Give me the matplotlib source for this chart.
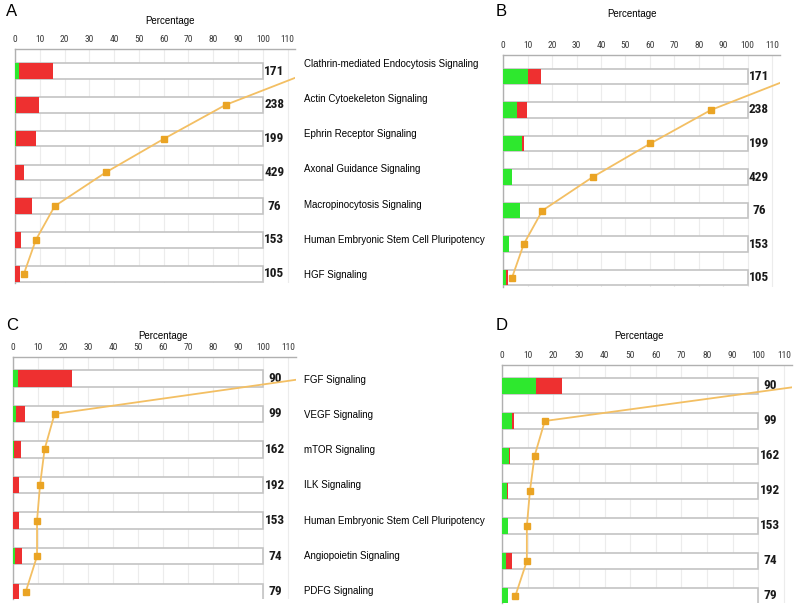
import numpy as np
import matplotlib
matplotlib.use("Agg")
import matplotlib.pyplot as plt

# pathways and molecule counts
paths_ab = ["Clathrin-mediated Endocytosis Signaling", "Actin Cytoekeleton Signaling",
            "Ephrin Receptor Signaling", "Axonal Guidance Signaling",
            "Macropinocytosis Signaling", "Human Embryonic Stem Cell Pluripotency",
            "HGF Signaling"]
counts_ab = [171, 238, 199, 429, 76, 153, 105]
paths_cd = ["FGF Signaling", "VEGF Signaling", "mTOR Signaling", "ILK Signaling",
            "Human Embryonic Stem Cell Pluripotency", "Angiopoietin Signaling",
            "PDFG Signaling"]
counts_cd = [90, 99, 162, 192, 153, 74, 79]

# percentage of pathway molecules: green (down) and red (up) segments
a_green = [1.5, 0.4, 0.3, 0.0, 0.0, 0.0, 0.0]
a_red = [14.0, 9.3, 8.2, 3.8, 6.7, 2.6, 1.9]
b_green = [10.2, 5.7, 7.5, 3.6, 6.7, 2.5, 1.0]
b_red = [5.4, 3.9, 1.0, 0.0, 0.0, 0.0, 0.9]
c_green = [2.2, 1.2, 0.4, 0.3, 0.0, 0.9, 0.0]
c_red = [21.3, 3.7, 2.8, 2.2, 2.5, 3.0, 2.5]
d_green = [13.3, 4.0, 2.9, 1.8, 2.3, 1.4, 2.5]
d_red = [10.0, 0.8, 0.3, 0.7, 0.2, 2.5, 0.0]

# threshold / -log(p) line (shown on the percentage scale)
line_ab = [120, 85, 60.2, 36.6, 16, 8.4, 3.6]
line_cd = [117, 16.7, 12.7, 10.9, 9.7, 9.7, 5.2]

GREEN = "#2ee82e"
RED = "#ee3030"
NARROW = ["Liberation Sans Narrow", "Roboto Condensed", "DejaVu Sans Condensed", "Liberation Sans"]
SANS = ["Liberation Sans", "DejaVu Sans"]

fig = plt.figure(figsize=(8, 6.07), dpi=100)


def panel(rect, green, red, line, counts, letter, ylim, letter_xy, title_xy):
    ax = fig.add_axes(rect)
    y = np.arange(len(counts))
    ax.set_xlim(0, 113)
    ax.set_ylim(*ylim)
    ax.barh(y, 100, height=0.46, color="white", edgecolor="#c4c4c4", linewidth=1.2, zorder=2)
    ax.barh(y, green, height=0.46, color=GREEN, zorder=3)
    ax.barh(y, red, left=green, height=0.46, color=RED, zorder=3)
    ax.plot(line, y, color="#f3bf63", lw=1.3, zorder=4)
    ax.plot(line, y, ls="none", marker="s", ms=4.5, color="#eaa424", zorder=5)
    for yi, c in zip(y, counts):
        ax.text(104.6, yi, str(c), ha="center", va="center", fontsize=9.5,
                fontweight="bold", family=NARROW, fontstretch="condensed", color="#1a1a1a")
    ax.set_xticks(np.arange(0, 111, 10))
    ax.xaxis.tick_top()
    ax.tick_params(axis="x", length=0, pad=3.5, labelsize=6.8, labelcolor="#3a3a3a")
    for lab in ax.get_xticklabels():
        lab.set_family(NARROW)
        lab.set_fontstretch("condensed")
    ax.set_yticks([])
    ax.grid(axis="x", color="#ececec", lw=0.8, zorder=0)
    ax.set_axisbelow(True)
    for s in ["bottom", "right"]:
        ax.spines[s].set_visible(False)
    for s in ["top", "left"]:
        ax.spines[s].set_color("#b0b0b0")
        ax.spines[s].set_linewidth(1.0)
    fig.text(*letter_xy, letter, fontsize=12, family=SANS, va="center", ha="left")
    fig.text(*title_xy, "Percentage", fontsize=7, family=SANS, va="center", ha="center")
    return ax


panel([0.01875, 0.534, 0.3500, 0.385], a_green, a_red, line_ab, counts_ab, "A",
      (6.27, -0.65), (6 / 800, 1 - 12 / 607), (170 / 800, 1 - 21 / 607))
panel([0.6290, 0.527, 0.3454, 0.382], b_green, b_red, line_ab, counts_ab, "B",
      (6.28, -0.63), (496 / 800, 1 - 11 / 607), (632 / 800, 1 - 14 / 607))
panel([0.0159, 0.014, 0.3540, 0.3984], c_green, c_red, line_cd, counts_cd, "C",
      (6.19, -0.61), (6 / 800, 1 - 326 / 607), (163 / 800, 1 - 336 / 607))
panel([0.6275, 0.0066, 0.3620, 0.3921], d_green, d_red, line_cd, counts_cd, "D",
      (6.2, -0.6), (496 / 800, 1 - 326 / 607), (639 / 800, 1 - 336 / 607))

# pathway names between the columns
for rect, names in [([0.38, 1 - 275 / 607, 0.24, 211 / 607], paths_ab),
                    ([0.38, 1 - 591 / 607, 0.24, 211 / 607], paths_cd)]:
    lab = fig.add_axes(rect)
    lab.set_xlim(0, 1)
    lab.set_ylim(len(names) - 1, 0)
    lab.axis("off")
    for i, n in enumerate(names):
        lab.text(0.0, i, n, ha="left", va="center", fontsize=7, family=SANS)

fig.savefig("out.png", dpi=100)
